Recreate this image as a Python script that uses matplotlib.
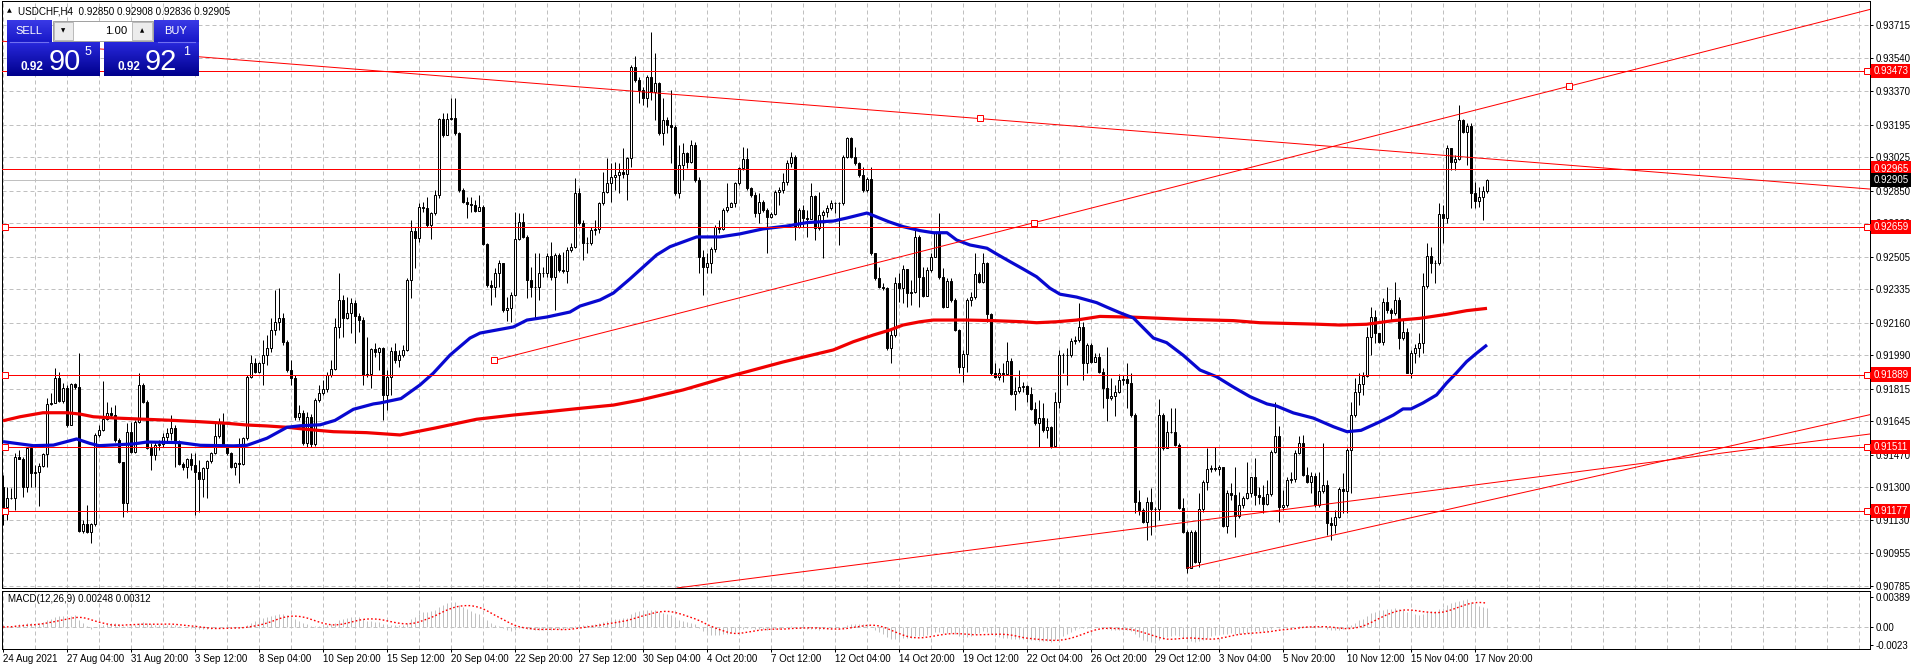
import numpy as np
import pandas as pd
import matplotlib
matplotlib.use("Agg")
import matplotlib.pyplot as plt
from matplotlib.patches import Rectangle

plt.rcParams['font.family'] = ['Liberation Sans', 'DejaVu Sans']

# ---------------- data (prices in points, 1 point = 0.00001) ----------------
open_first = 91304
close_pts = [
91200,91243,91247,91457,91450,91300,91504,91374,91382,91414,91475,91736,91743,91870,91751,91821,91626,91840,91823,91072,
91109,91065,91107,91574,91600,91657,91687,91678,91548,91431,91220,91589,91483,91643,91835,91748,91504,91469,91522,91525,
91565,91586,91609,91530,91422,91405,91447,91417,91382,91344,91400,91436,91478,91569,91635,91522,91478,91408,91429,91422,
91556,91878,91948,91901,91948,91992,92028,92122,92164,92185,92060,91913,91871,91668,91689,91532,91668,91527,91757,91793,
91814,91887,91918,92140,92279,92183,92209,92261,92197,92174,91887,91893,92021,92009,92026,91783,91878,92014,91965,91992,
92018,92383,92641,92601,92766,92761,92670,92731,92827,93222,93141,93222,93228,93149,92853,92792,92780,92775,92745,92766,
92571,92357,92348,92418,92470,92227,92235,92305,92596,92688,92610,92383,92348,92348,92422,92422,92509,92401,92514,92435,
92432,92540,92557,92836,92679,92578,92575,92644,92648,92784,92845,92888,92923,92932,92946,92937,93019,93497,93428,93376,
93332,93442,93367,93410,93149,93219,93193,93184,92836,92984,93045,93001,93088,92905,92502,92453,92470,92543,92662,92648,
92749,92766,92784,92888,92966,93013,92862,92827,92731,92792,92749,92714,92728,92845,92853,92897,92996,93027,92662,92749,
92705,92702,92822,92653,92723,92740,92758,92784,92784,92787,93027,93123,93027,92993,92932,92853,92909,92522,92392,92348,
92340,92026,92096,92366,92340,92439,92314,92321,92610,92397,92300,92435,92505,92627,92397,92244,92380,92279,92122,91931,
91997,92279,92293,92415,92375,92470,92206,91896,91878,91896,91892,91962,91788,91805,91823,91830,91788,91708,91635,91661,
91600,91614,91516,91748,91992,91992,91990,92066,92070,92140,91951,92044,91957,91983,91904,91817,91765,91777,91800,91861,
91864,91844,91678,91226,91182,91121,91226,91186,91189,91678,91504,91591,91591,91522,91191,91069,90877,91069,90912,91186,
91330,91394,91400,91394,91408,91098,91273,91260,91151,91208,91243,91269,91353,91260,91252,91213,91264,91487,91568,91196,
91208,91339,91342,91481,91534,91365,91330,91360,91208,91283,91313,91112,91104,91144,91290,91283,91495,91678,91800,91840,
91882,92087,92188,92105,92061,92270,92227,92209,92279,92078,92113,91899,92004,92026,92052,92352,92509,92470,92470,92728,
92705,93071,93001,93013,93219,93158,93188,92836,92798,92815,92850,92905]
high_pts = [
91365,91304,91295,91478,91495,91461,91513,91513,91417,91426,91482,91765,91791,91922,91905,91844,91835,91847,91847,92000,
91130,91208,91113,91583,91626,91856,91748,91722,91730,91556,91435,91635,91643,91652,91896,91844,91757,91530,91539,91548,
91583,91609,91678,91626,91548,91435,91452,91478,91478,91443,91408,91443,91487,91635,91661,91690,91527,91487,91435,91556,
91565,91887,91992,91974,91957,92070,92096,92185,92331,92341,92211,92070,91965,91887,91731,91704,91694,91683,91767,91835,
91861,91903,91965,92183,92418,92305,92296,92287,92279,92209,92188,92087,92026,92052,92035,92035,91913,92035,92052,92018,
92044,92392,92697,92662,92784,92792,92818,92740,92853,93228,93254,93254,93332,93332,93158,92862,92818,92818,92801,92827,
92775,92575,92383,92444,92488,92474,92296,92322,92740,92735,92731,92618,92453,92523,92523,92453,92523,92583,92523,92523,
92531,92557,92575,92914,92862,92697,92610,92662,92697,92792,92949,93019,92993,93001,92993,93071,93027,93506,93553,93445,
93393,93454,93680,93567,93419,93332,93236,93376,93193,93088,93097,93053,93114,93106,92923,92540,92522,92557,92670,92697,
92758,92888,92792,92897,92975,93080,93071,92871,92845,92839,92801,92758,92740,92853,92871,92940,93010,93053,93036,92758,
92775,92749,92888,92827,92845,92749,92775,92801,92792,92792,93036,93132,93128,93080,93001,92975,92923,92975,92522,92453,
92366,92348,92122,92401,92418,92462,92435,92383,92648,92618,92453,92453,92522,92636,92735,92444,92392,92392,92287,92126,
92018,92287,92322,92522,92427,92522,92479,92209,91951,91922,91948,92061,91974,91878,91913,91852,91835,91826,91748,91757,
91739,91661,91621,91800,92018,92000,92026,92079,92091,92265,92166,92052,92052,92000,92004,91922,92035,91870,91835,91892,
91887,91948,91899,91687,91287,91191,91252,91295,91199,91760,91687,91649,91713,91713,91530,91243,91078,91078,91078,91273,
91339,91504,91417,91513,91417,91377,91286,91321,91408,91278,91255,91434,91356,91452,91304,91313,91339,91495,91748,91621,
91286,91356,91382,91495,91568,91574,91408,91382,91374,91382,91534,91339,91147,91182,91304,91377,91504,91748,91870,91896,
91904,92140,92244,92227,92105,92287,92348,92235,92375,92296,92174,92131,92018,92049,92105,92422,92575,92557,92488,92784,
92775,93088,93071,93036,93297,93222,93202,93202,92897,92871,92874,92908]
low_pts = [
91104,91130,91238,91182,91447,91252,91278,91304,91304,91205,91408,91408,91730,91739,91746,91743,91617,91624,91816,91067,
91060,91060,91008,91099,91565,91596,91652,91666,91539,91426,91147,91173,91478,91478,91638,91739,91499,91391,91443,91495,
91513,91530,91548,91408,91417,91391,91347,91391,91156,91173,91252,91243,91426,91475,91556,91513,91469,91400,91365,91325,
91417,91548,91870,91896,91896,91835,91939,92007,92096,92122,92044,91903,91835,91652,91652,91521,91511,91511,91516,91746,
91783,91798,91877,91913,92078,92087,92178,92105,92052,92113,91835,91878,91817,91983,91913,91652,91704,91783,91948,91927,
91983,92014,92287,92444,92583,92740,92662,92596,92723,92810,93132,93141,93219,93141,92845,92784,92705,92740,92740,92758,
92566,92348,92253,92296,92348,92218,92171,92166,92300,92592,92601,92287,92296,92183,92279,92401,92401,92383,92227,92427,
92418,92366,92531,92549,92670,92488,92523,92566,92618,92627,92775,92836,92792,92853,92836,92914,92801,92975,93419,93306,
93297,93285,93323,93219,93141,93088,93149,92993,92827,92810,92905,92966,92993,92897,92418,92305,92418,92418,92531,92627,
92644,92740,92766,92766,92879,92958,92853,92818,92714,92679,92740,92522,92705,92723,92775,92836,92879,92975,92592,92653,
92662,92610,92731,92592,92644,92496,92714,92749,92731,92566,92775,93019,93019,92984,92923,92845,92845,92514,92383,92340,
92331,92018,91948,92087,92270,92261,92244,92253,92314,92244,92293,92340,92427,92502,92387,92235,92240,92270,92119,91896,
91852,91904,92247,92282,92366,92366,92166,91887,91870,91861,91852,91887,91783,91704,91795,91800,91748,91704,91626,91513,
91591,91556,91504,91509,91713,91896,91835,91979,92049,92061,91861,91899,91951,91957,91899,91713,91649,91757,91673,91791,
91835,91713,91669,91165,91156,91112,91025,91051,91095,91130,91495,91548,91582,91516,91186,91060,90851,90877,90903,90886,
91173,91286,91382,91387,91365,91095,91060,91234,91043,91138,91191,91238,91252,91208,91213,91165,91208,91255,91478,91121,
91182,91199,91325,91330,91474,91360,91321,91273,91199,91199,91269,91051,91025,91060,91138,91165,91168,91269,91670,91730,
91783,91878,91992,92052,92052,92044,92209,92174,92200,92021,92070,91896,91870,91952,91983,92000,92340,92418,92369,92462,
92575,92679,92958,92958,93010,93149,92984,92758,92758,92766,92697,92836]

# moving averages: (bar position, value in points)
blue_ma_x = [0,7.6,12.6,18.4,21.7,24,32.6,36,44.3,49.3,57.6,61,66,71,74.3,79.3,83,87.6,92.6,94.25,99.5,104.25,107.6,111.75,
             116.75,119.25,127.6,131,136,141.75,144.25,149.25,152.6,156.75,159.25,163.4,166.75,173.4,179.25,184.25,190,196,
             201,207.6,211,216,221.5,225,229.25,232.6,236,238.4,241.75,246,248.4,251.75,255,258.4,261.75,264.25,268.4,273.4,
             276,279.25,282.6,287.6,290.9,295,299.25,303.4,307.6,311.75,316,318.4,322.6,327.6,332.6,336,339.5,344.25,347.6,
             350,352,355,358.4,360.9,363.4,365.9,368.4,371]
blue_ma_pts = [91539,91518,91521,91553,91530,91518,91527,91537,91534,91520,91517,91520,91557,91614,91622,91627,91650,91708,
               91736,91741,91764,91835,91897,91991,92080,92106,92138,92174,92190,92216,92247,92279,92315,92389,92436,92514,
               92557,92608,92608,92624,92650,92665,92683,92691,92707,92733,92687,92662,92641,92630,92630,92592,92566,92549,
               92519,92479,92441,92400,92340,92309,92294,92265,92241,92212,92185,92080,92056,91991,91913,91878,91824,91774,
               91736,91725,91689,91662,91617,91591,91598,91643,91678,91710,91710,91741,91783,91845,91899,91957,92001,92044]
red_ma_x = [0,4.25,10,16,19.25,22.6,28.4,34.25,42.6,49.25,55.9,60.9,66,71,76,82.6,90.9,99.25,108,118.4,127.6,136,144.25,
            152.6,159.25,170,182,195,207.6,212.6,217.6,221.75,225,229.25,232.6,240.9,247.6,255,258.4,263.4,268.4,274.25,
            282.6,295,307.6,314.25,327.6,334.25,340.9,347.6,354.25,360.9,365.9,371]
red_ma_pts = [91648,91669,91690,91690,91683,91669,91662,91657,91650,91643,91635,91626,91621,91614,91603,91591,91586,91574,
              91610,91656,91678,91695,91713,91730,91756,91809,91882,91955,92018,92061,92096,92122,92148,92165,92174,92174,
              92171,92165,92160,92165,92174,92193,92189,92178,92171,92160,92153,92148,92152,92171,92183,92204,92223,92235]

price_ticks = [0.93715,0.93540,0.93370,0.93195,0.93025,0.92850,0.92680,0.92505,0.92335,0.92160,
               0.91990,0.91815,0.91645,0.91470,0.91300,0.91130,0.90955,0.90785]
level_lines = [0.93473,0.92965,0.92659,0.91889,0.91511,0.91177]
level_left_marker = [False,False,True,True,True,True]
level_right_marker = [True,False,True,True,True,True]
bid_price = 0.92905

# trend lines: (bar0, price0, bar1, price1)
trend_lines = [(-0.75,0.93631,466.75,0.92858),
               (122.75,0.91963,466.75,0.93796),
               (168.5,0.90775,466.75,0.91579),
               (296.0,0.90879,466.75,0.91680)]
trend_markers_x = [244.25,122.75,257.75,391.5]
trend_markers_y = [0.93227,0.91963,0.92682,0.93395]

date_labels = ["24 Aug 2021","27 Aug 04:00","31 Aug 20:00","3 Sep 12:00","8 Sep 04:00","10 Sep 20:00",
               "15 Sep 12:00","20 Sep 04:00","22 Sep 20:00","27 Sep 12:00","30 Sep 04:00","4 Oct 20:00",
               "7 Oct 12:00","12 Oct 04:00","14 Oct 20:00","19 Oct 12:00","22 Oct 04:00","26 Oct 20:00",
               "29 Oct 12:00","3 Nov 04:00","5 Nov 20:00","10 Nov 12:00","15 Nov 04:00","17 Nov 20:00"]
macd_ticks = [0.00389, 0.0, -0.0023]
macd_tick_labels = ["0.00389", "0.00", "-0.0023"]

# ---------------- figure ----------------
W, H = 1916, 670
fig = plt.figure(figsize=(W/100, H/100), dpi=100)
fig.patch.set_facecolor('white')

def px_rect(x0, y0, x1, y1):
    return [x0/W, 1-y1/H, (x1-x0)/W, (y1-y0)/H]

ax = fig.add_axes(px_rect(2, 1, 1870, 588))
ax2 = fig.add_axes(px_rect(2, 591, 1870, 649))

XMIN, XMAX = -0.25, 466.75
PX = 0.72  # one pixel in points
FS = 7.0
GRID = '#c0c0c0'

close = np.array(close_pts, float) / 1e5
high = np.array(high_pts, float) / 1e5
low = np.array(low_pts, float) / 1e5
opn = np.r_[open_first / 1e5, close[:-1]]
n = len(close)
xs = np.arange(n)

# grid
for gx in np.arange(0, XMAX, 8):
    for a in (ax, ax2):
        a.axvline(gx, color=GRID, lw=PX, dashes=(4, 3), zorder=0)
for gy in price_ticks:
    ax.axhline(gy, color=GRID, lw=PX, dashes=(4, 3), zorder=0)
ax2.axhline(0, color=GRID, lw=PX, dashes=(4, 3), zorder=0)

# candles
body_lo = np.minimum(opn, close)
body_hi = np.maximum(opn, close)
ax.vlines(xs, np.minimum(low, body_lo), np.maximum(high, body_hi), color='black', lw=PX, zorder=2)
up = close >= opn
ax.bar(xs[up], (body_hi - body_lo)[up], bottom=body_lo[up], width=0.5, facecolor='white',
       edgecolor='black', linewidth=PX, zorder=3)
ax.bar(xs[~up], (body_hi - body_lo)[~up], bottom=body_lo[~up], width=0.5, facecolor='black',
       edgecolor='black', linewidth=PX, zorder=3)

# moving averages
ax.plot(np.array(red_ma_x), np.array(red_ma_pts)/1e5, color='#f00000', lw=2.3, zorder=4,
        solid_capstyle='butt')
ax.plot(np.array(blue_ma_x), np.array(blue_ma_pts)/1e5, color='#0808d0', lw=2.3, zorder=4,
        solid_capstyle='butt')

# bid line
ax.axhline(bid_price, color='#c0c0c0', lw=PX, zorder=1)

# level lines
for lv, lm, rm in zip(level_lines, level_left_marker, level_right_marker):
    ax.axhline(lv, color='#ff0000', lw=PX, zorder=5)
    if lm:
        ax.plot([0.6], [lv], marker='s', ms=4, mfc='white', mec='#ff0000', mew=PX, zorder=6)
    if rm:
        ax.plot([466.0], [lv], marker='s', ms=4, mfc='white', mec='#ff0000', mew=PX, zorder=6)

# trend lines
for (x0, y0, x1, y1) in trend_lines:
    ax.plot([x0, x1], [y0, y1], color='#ff0000', lw=PX, zorder=5)
ax.plot(trend_markers_x, trend_markers_y, ls='none', marker='s', ms=4, mfc='white',
        mec='#ff0000', mew=PX, zorder=6)

ax.set_xlim(XMIN, XMAX)
ax.set_ylim(0.907748, 0.93840)
ax.set_xticks([])
ax.yaxis.tick_right()
ax.set_yticks(price_ticks)
ax.set_yticklabels([f"{t:.5f}" for t in price_ticks])
ax.tick_params(axis='y', length=2.2, width=PX, pad=1.6, labelsize=FS, colors='black')
for s in ax.spines.values():
    s.set_color('black'); s.set_linewidth(PX)

# label boxes on price axis
def axis_box(a, val, txt, fc):
    a.annotate(txt, xy=(1, val), xycoords=('axes fraction', 'data'), xytext=(2.4, 0),
               textcoords='offset points', ha='left', va='center', color='white', fontsize=FS,
               bbox=dict(boxstyle='square,pad=0.22', fc=fc, ec='none'), annotation_clip=False,
               zorder=10)
for lv in level_lines:
    axis_box(ax, lv, f"{lv:.5f}", '#ff0000')
axis_box(ax, bid_price, f"{bid_price:.5f}", 'black')

# ---------------- MACD ----------------
def ema(a, span):
    alpha = 2.0 / (span + 1)
    out = np.empty_like(a)
    out[0] = a[0]
    for i in range(1, len(a)):
        out[i] = alpha * a[i] + (1 - alpha) * out[i-1]
    return out
macd = ema(close, 12) - ema(close, 26)
signal = pd.Series(macd).rolling(9, min_periods=1).mean().values
ax2.vlines(xs, 0, macd, color='#c0c0c0', lw=PX, zorder=2)
ax2.plot(xs, signal, color='#ff0000', lw=1.0, ls=(0, (1.2, 1.6)), zorder=3)
ax2.set_xlim(XMIN, XMAX)
ax2.set_ylim(-0.00285, 0.00467)
ax2.yaxis.tick_right()
ax2.set_yticks(macd_ticks)
ax2.set_yticklabels(macd_tick_labels)
ax2.tick_params(axis='y', length=2.2, width=PX, pad=1.6, labelsize=FS)
ax2.set_xticks(np.arange(len(date_labels)) * 16)
ax2.set_xticklabels(date_labels)
for lab in ax2.get_xticklabels():
    lab.set_ha('left')
ax2.tick_params(axis='x', length=2.5, width=PX, pad=1.0, labelsize=FS)
for s in ax2.spines.values():
    s.set_color('black'); s.set_linewidth(PX)
ax2.text(0.003, 0.86, "MACD(12,26,9) 0.00248 0.00312", transform=ax2.transAxes, fontsize=FS,
         ha='left', va='center', color='black')

# ---------------- overlay: symbol header and trade panel ----------------
ov = fig.add_axes([0, 0, 1, 1], zorder=20)
ov.set_xlim(0, W); ov.set_ylim(H, 0); ov.axis('off'); ov.patch.set_alpha(0)
ov.set_autoscale_on(False)

def grad_rect(x0, y0, x1, y1, ctop, cbot):
    ctop = np.array(matplotlib.colors.to_rgb(ctop)); cbot = np.array(matplotlib.colors.to_rgb(cbot))
    t = np.linspace(0, 1, 64)[:, None]
    arr = (ctop[None, :] * (1 - t) + cbot[None, :] * t)[:, None, :]
    ov.imshow(arr, extent=(x0, x1, y1, y0), aspect='auto', interpolation='bilinear', zorder=1)

ov.text(9.5, 11, "\u25B2", fontsize=4.5, ha='center', va='center', color='black',
        family=['DejaVu Sans'])
ov.text(18, 11.3, "USDCHF,H4  0.92850 0.92908 0.92836 0.92905", fontsize=7.1, ha='left',
        va='center', color='black')

# SELL
grad_rect(7, 21, 52, 42.5, '#3a3ae6', '#1818c8')
grad_rect(7, 42.5, 100, 76, '#2828dc', '#00008c')
ov.plot([10, 48], [42.3, 42.3], color='#7070f0', lw=0.8, zorder=2)
# BUY
grad_rect(154, 21, 199, 42.5, '#3a3ae6', '#1818c8')
grad_rect(104, 42.5, 199, 76, '#2828dc', '#00008c')
ov.plot([158, 195], [42.3, 42.3], color='#7070f0', lw=0.8, zorder=2)
# lot spinner
ov.add_patch(Rectangle((53, 21), 100, 20, fc='white', ec='#a0a0a0', lw=0.7, zorder=2))
ov.add_patch(Rectangle((54, 22), 19, 18, fc='#ececec', ec='#b0b0b0', lw=0.6, zorder=3))
ov.add_patch(Rectangle((132, 22), 20, 18, fc='#ececec', ec='#b0b0b0', lw=0.6, zorder=3))
ov.text(63.5, 30.5, "\u25BC", fontsize=4, ha='center', va='center', color='black', family=['DejaVu Sans'], zorder=4)
ov.text(142, 30.5, "\u25B2", fontsize=4, ha='center', va='center', color='black', family=['DejaVu Sans'], zorder=4)
ov.text(127, 31, "1.00", fontsize=8.2, ha='right', va='center', color='black', zorder=4)
ov.text(29, 31, "SELL", fontsize=8, ha='center', va='center', color='white', zorder=4)
ov.text(176, 31, "BUY", fontsize=8, ha='center', va='center', color='white', zorder=4)
ov.text(20.5, 70, "0.92", fontsize=8.5, fontweight='bold', ha='left', va='baseline', color='white', zorder=4)
ov.text(48.5, 70, "90", fontsize=21, ha='left', va='baseline', color='white', zorder=4)
ov.text(85, 55, "5", fontsize=9, ha='left', va='baseline', color='white', zorder=4)
ov.text(117.5, 70, "0.92", fontsize=8.5, fontweight='bold', ha='left', va='baseline', color='white', zorder=4)
ov.text(145, 70, "92", fontsize=21, ha='left', va='baseline', color='white', zorder=4)
ov.text(183, 55, "1", fontsize=9, ha='left', va='baseline', color='white', zorder=4)

fig.savefig("out.png", dpi=100, facecolor='white')
